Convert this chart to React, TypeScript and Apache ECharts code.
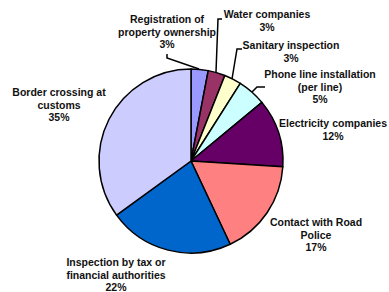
import React, { useEffect, useRef } from "react";
import * as echarts from "echarts";

const categories = [
  "Registration of\nproperty ownership",
  "Water companies",
  "Sanitary inspection",
  "Phone line installation\n(per line)",
  "Electricity companies",
  "Contact with Road\nPolice",
  "Inspection by tax or\nfinancial authorities",
  "Border crossing at\ncustoms",
];
const shares = [3, 3, 3, 5, 12, 17, 22, 35];
const sliceColors = ["#9999ff", "#993366", "#ffffcc", "#ccffff", "#660066", "#ff8080", "#0066cc", "#ccccff"];

// label anchor (center x, top y) and leader lines, in pixels
const labelAnchors: [number, number][] = [
  [167, 13],
  [267, 8],
  [291, 39],
  [320, 68],
  [333, 117],
  [316, 216],
  [116, 256],
  [59, 86],
];
const leaderLines: ([number, number][] | null)[] = [
  [[199, 69], [167, 58], [167, 54]],
  [[216, 72], [218, 19], [222, 19]],
  [[232, 79], [237, 49], [242, 49]],
  [[252, 92], [257, 87], [265, 87]],
  null,
  null,
  null,
  null,
];

export default function App() {
  const ref = useRef<HTMLDivElement>(null);
  useEffect(() => {
    document.body.style.margin = "0";
    const chart = echarts.init(ref.current!, null, { renderer: "svg" });
    chart.setOption({
      animation: false,
      series: [
        {
          type: "pie",
          center: [191, 161],
          radius: 92,
          startAngle: 90,
          clockwise: true,
          avoidLabelOverlap: false,
          itemStyle: { borderColor: "#000", borderWidth: 1.5 },
          emphasis: { disabled: true },
          label: {
            show: true,
            position: "outside",
            formatter: "{b}\n{c}%",
            fontFamily: "Liberation Sans, Arial, sans-serif",
            fontWeight: "bold",
            fontSize: 10.5,
            lineHeight: 12.5,
            color: "#111",
            align: "center",
          },
          labelLine: { show: true, lineStyle: { color: "#000", width: 1.5 } },
          labelLayout: (p: any) => {
            const i = p.dataIndex;
            const a = labelAnchors[i];
            const res: any = { x: a[0], y: a[1], align: "center", verticalAlign: "top" };
            if (leaderLines[i]) res.labelLinePoints = leaderLines[i];
            return res;
          },
          data: categories.map((name, i) => ({
            name,
            value: shares[i],
            itemStyle: { color: sliceColors[i] },
            labelLine: { show: !!leaderLines[i] },
          })),
        },
      ],
    });
    return () => chart.dispose();
  }, []);
  return <div ref={ref} style={{ width: 389, height: 292, background: "#fff" }} />;
}
